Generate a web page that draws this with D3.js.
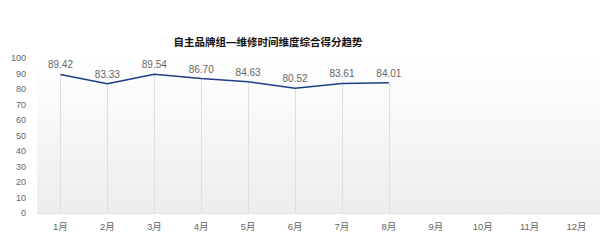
<!DOCTYPE html>
<html>
<head>
<meta charset="utf-8">
<script src="https://cdn.jsdelivr.net/npm/d3@7"></script>
<style>
  body { margin: 0; background: #fff; }
  text { font-family: Arial, "Liberation Sans", "Noto Sans CJK SC", sans-serif; }
</style>
</head>
<body>
<div id="graph"></div>
<script>
'use strict'

const months = ['1月', '2月', '3月', '4月', '5月', '6月', '7月', '8月', '9月', '10月', '11月', '12月']
const scores = [89.42, 83.33, 89.54, 86.70, 84.63, 80.52, 83.61, 84.01]
const yTicks = [0, 10, 20, 30, 40, 50, 60, 70, 80, 90, 100]
const title = '自主品牌组—维修时间维度综合得分趋势'

let cw = 600, ch = 240
let margin = { top: 58, right: 0, bottom: 27, left: 37 },
  width = cw - margin.left - margin.right,
  height = ch - margin.top - margin.bottom

let svg = d3.select('#graph').append('svg')
  .attr('width', cw)
  .attr('height', ch)

let defs = svg.append('defs')
let grad = defs.append('linearGradient')
  .attr('id', 'bg')
  .attr('x1', 0).attr('y1', 0).attr('x2', 0).attr('y2', 1)
grad.append('stop').attr('offset', '0%').attr('stop-color', '#ffffff')
grad.append('stop').attr('offset', '100%').attr('stop-color', '#ededed')

let g = svg.append('g')
  .attr('transform', `translate(${margin.left}, ${margin.top})`)

let x = d3.scaleBand()
  .domain(months)
  .range([0, width])
let y = d3.scaleLinear()
  .domain([0, 100])
  .range([height, 0])

g.append('rect')
  .attr('width', width)
  .attr('height', height)
  .attr('fill', 'url(#bg)')

g.append('line')
  .attr('x1', 0).attr('x2', width)
  .attr('y1', height + 0.5).attr('y2', height + 0.5)
  .attr('stroke', '#e2e2e2')

let cx = (d, i) => x(months[i]) + x.bandwidth() / 2

// drop lines
g.selectAll('.drop')
  .data(scores)
  .join('line')
  .attr('class', 'drop')
  .attr('x1', (d, i) => Math.round(cx(d, i)) + 0.5)
  .attr('x2', (d, i) => Math.round(cx(d, i)) + 0.5)
  .attr('y1', d => y(d))
  .attr('y2', height)
  .attr('stroke', '#dedede')

let line = d3.line()
  .x(cx)
  .y(d => y(d))

g.append('path')
  .datum(scores)
  .attr('fill', 'none')
  .attr('stroke', '#1f3d87')
  .attr('stroke-width', 1.5)
  .attr('stroke-linejoin', 'round')
  .attr('d', line)

g.selectAll('.val')
  .data(scores)
  .join('text')
  .attr('class', 'val')
  .attr('x', cx)
  .attr('y', d => y(d) - 6)
  .attr('text-anchor', 'middle')
  .attr('font-size', 10)
  .attr('fill', '#666')
  .text(d => d.toFixed(2))

// y labels
g.selectAll('.ylab')
  .data(yTicks)
  .join('text')
  .attr('class', 'ylab')
  .attr('x', -11)
  .attr('y', d => y(d))
  .attr('dy', '0.35em')
  .attr('text-anchor', 'end')
  .attr('font-size', 9)
  .attr('fill', '#666')
  .text(d => d)

// x labels
g.selectAll('.xlab')
  .data(months)
  .join('text')
  .attr('class', 'xlab')
  .attr('x', d => x(d) + x.bandwidth() / 2)
  .attr('y', height + 17)
  .attr('text-anchor', 'middle')
  .attr('font-size', 9.5)
  .attr('fill', '#666')
  .text(d => d)

svg.append('text')
  .attr('x', 268)
  .attr('y', 46)
  .attr('text-anchor', 'middle')
  .attr('font-size', 10.5)
  .attr('font-weight', 'bold')
  .attr('fill', '#111')
  .text(title)
</script>
</body>
</html>
